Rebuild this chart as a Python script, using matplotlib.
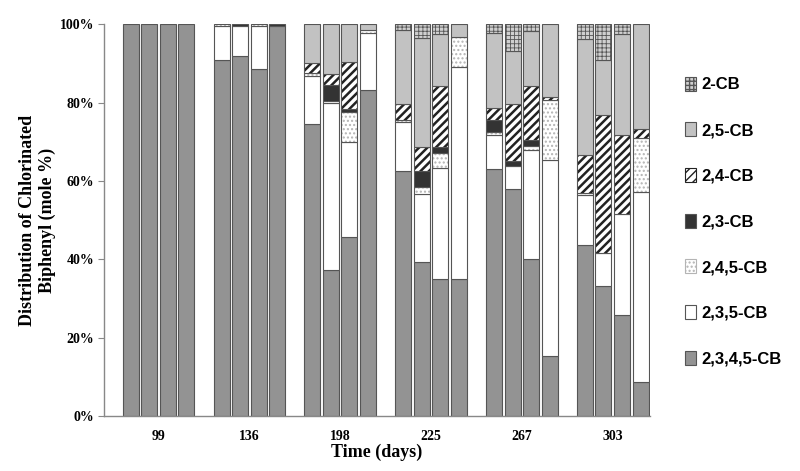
import numpy as np
import matplotlib
matplotlib.use("Agg")
import matplotlib.pyplot as plt
from matplotlib.patches import Patch

# sampling days and 4 replicate bars per day
days = ["99", "136", "198", "225", "267", "303"]
n_rep = 4

# mole % per congener, 24 bars (6 days x 4 replicates), bottom to top
cb2345 = [100, 100, 100, 100, 91.0, 92.0, 88.7, 99.5, 74.6, 37.2, 45.6, 83.3,
          62.6, 39.3, 35.0, 35.0, 63.2, 57.9, 40.2, 15.4, 43.6, 33.3, 25.8, 8.7]
cb235 = [0, 0, 0, 0, 8.5, 7.7, 11.0, 0, 12.3, 42.8, 24.5, 14.6,
         12.4, 17.5, 28.4, 54.1, 8.6, 5.9, 27.7, 50.0, 12.8, 8.4, 25.9, 48.4]
cb245 = [0, 0, 0, 0, 0.5, 0, 0.3, 0, 0.8, 0.4, 7.5, 0.6,
         0.6, 1.7, 3.7, 7.7, 0.8, 0, 1.1, 15.4, 0.6, 0, 0, 14.0]
cb23 = [0, 0, 0, 0, 0, 0.3, 0, 0.5, 0, 4.2, 0.9, 0,
        0, 4.1, 1.7, 0, 3.0, 1.2, 1.5, 0, 0, 0, 0, 0]
cb24 = [0, 0, 0, 0, 0, 0, 0, 0, 2.5, 2.8, 11.8, 0,
        4.1, 6.2, 15.6, 0, 3.0, 14.7, 13.9, 0.8, 9.7, 35.2, 20.1, 2.1]
cb25 = [0, 0, 0, 0, 0, 0, 0, 0, 9.8, 12.6, 9.7, 1.5,
        18.8, 27.8, 13.2, 3.2, 19.3, 13.6, 13.9, 18.4, 29.6, 14.1, 25.8, 26.8]
cb2 = [0, 0, 0, 0, 0, 0, 0, 0, 0, 0, 0, 0,
       1.5, 3.4, 2.4, 0, 2.1, 6.7, 1.7, 0, 3.7, 9.0, 2.4, 0]

series = [
    ("2,3,4,5-CB", cb2345, "#939393", None, None, 1.0),
    ("2,3,5-CB", cb235, "white", None, None, 1.0),
    ("2,4,5-CB", cb245, "white", "....", "#b4b4b4", 1.0),
    ("2,3-CB", cb23, "#333333", None, None, 1.0),
    ("2,4-CB", cb24, "white", "////", "#222222", 1.8),
    ("2,5-CB", cb25, "#c2c2c2", None, None, 1.0),
    ("2-CB", cb2, "#cfcfcf", "++++", "#555555", 0.6),
]

pitch, width = 0.204, 0.176
x = np.array([g + (r - 1.5) * pitch for g in range(len(days)) for r in range(n_rep)])

plt.rcParams['font.family'] = ['Liberation Serif', 'DejaVu Serif']
fig = plt.figure(figsize=(8, 4.71), dpi=100)
ax = fig.add_axes([0.13, 0.117, 0.6825, 0.831])

bottom = np.zeros(len(x))
handles = []
for name, vals, face, hatch, hcol, hlw in series:
    vals = np.array(vals, dtype=float)
    m = vals > 0
    with plt.rc_context({'hatch.linewidth': hlw}):
        if hatch:
            ax.bar(x[m], vals[m], width, bottom=bottom[m], color=face,
                   hatch=hatch, edgecolor=hcol, linewidth=0)
        ax.bar(x[m], vals[m], width, bottom=bottom[m],
               facecolor=face if not hatch else 'none',
               edgecolor='#555555', linewidth=0.8)
        handles.append(Patch(facecolor=face, hatch=hatch,
                             edgecolor=hcol if hatch else '#555555', linewidth=0.8))
    bottom += vals

ax.set_xlim(-0.6, 5.41)
ax.set_ylim(0, 100)
ax.set_yticks(np.arange(0, 101, 20))
ax.set_yticklabels([f"{v}%" for v in range(0, 101, 20)], fontsize=10, fontweight='bold')
ax.set_xticks(range(len(days)))
ax.set_xticklabels(days, fontsize=10, fontweight='bold')
ax.tick_params(axis='x', length=0, pad=10)
ax.tick_params(axis='y', length=4, color='#888888', pad=3)
for s in ['top', 'right']:
    ax.spines[s].set_visible(False)
for s in ['left', 'bottom']:
    ax.spines[s].set_color('#888888')
    ax.spines[s].set_linewidth(1.0)

ax.set_xlabel("Time (days)", fontsize=13, fontweight='bold', labelpad=1)
ax.set_ylabel("Distribution of Chlorinated\nBiphenyl (mole %)", fontsize=13,
              fontweight='bold', labelpad=3)

leg = ax.legend(handles[::-1], [s[0] for s in series][::-1],
                loc='upper left', bbox_to_anchor=(1.037, 0.905), frameon=False,
                handlelength=0.65, handleheight=0.9, handletextpad=0.3,
                labelspacing=1.8,
                prop={'family': 'Liberation Sans', 'weight': 'bold', 'size': 12})

fig.savefig("out.png", dpi=100)
